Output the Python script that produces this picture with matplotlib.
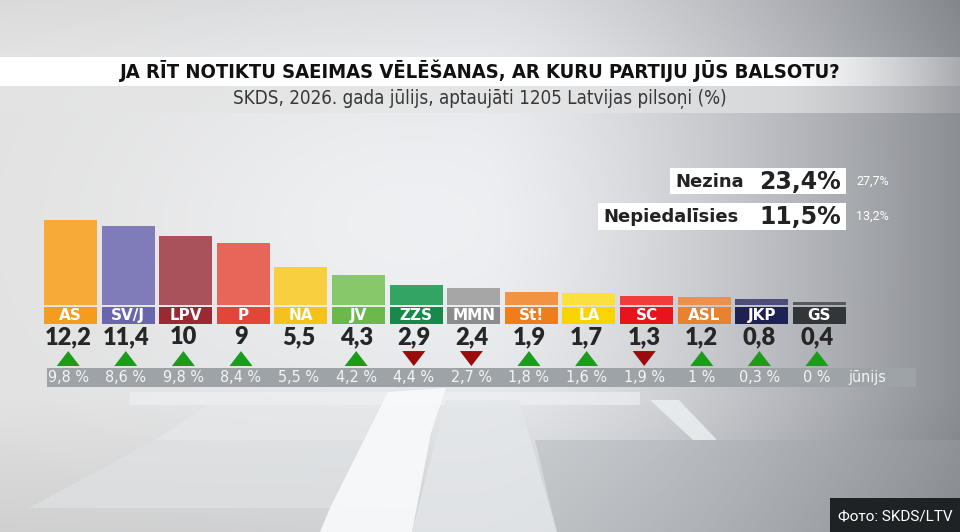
import numpy as np
import matplotlib
matplotlib.use('Agg')
import matplotlib.pyplot as plt
from matplotlib.patches import Rectangle, Polygon

# dati
parties = ["AS", "SV/J", "LPV", "P", "NA", "JV", "ZZS", "MMN", "St!", "LA", "SC", "ASL", "JKP", "GS"]
july = [12.2, 11.4, 10, 9, 5.5, 4.3, 2.9, 2.4, 1.9, 1.7, 1.3, 1.2, 0.8, 0.4]
june = [9.8, 8.6, 9.8, 8.4, 5.5, 4.2, 4.4, 2.7, 1.8, 1.6, 1.9, 1, 0.3, 0]
bar_colors = ["#f7aa38", "#7f7cb9", "#a9525b", "#e8655a", "#f8d03f", "#86c86a", "#33a461",
              "#a6a6a6", "#f09343", "#fbe03e", "#f23b3b", "#ea914f", "#4b4f78", "#55585d"]
tag_colors = ["#f59b1d", "#6a66ad", "#9b2934", "#e2463b", "#f4c21a", "#6db84b", "#18894a",
              "#8c8c8c", "#ef7d1b", "#f9d500", "#e9131d", "#e8822f", "#1e2251", "#333639"]
other_labels = ["Nezina", "Nepiedalīsies"]
other_july = [23.4, 11.5]
other_june = [27.7, 13.2]

title = "JA RĪT NOTIKTU SAEIMAS VĒLĒŠANAS, AR KURU PARTIJU JŪS BALSOTU?"
subtitle = "SKDS, 2026. gada jūlijs, aptaujāti 1205 Latvijas pilsoņi (%)"
prev_label = "jūnijs"
credit = "Фото: SKDS/LTV"


def fmt(v):
    return f"{v:g}".replace(".", ",")


W, H = 960, 532
fig = plt.figure(figsize=(9.6, 5.32), dpi=100)

# fons
bg = fig.add_axes([0, 0, 1, 1])
bg.set_xlim(0, W)
bg.set_ylim(H, 0)
bg.set_axis_off()

gx = np.linspace(0, 1, W)[None, :]
gy = np.linspace(0, 1, H)[:, None]
shade = 0.885 + 0.05 * np.exp(-((gx - 0.42) ** 2 / 0.08 + (gy - 0.42) ** 2 / 0.1))
shade = shade - 0.34 * np.clip((gx - 0.5) / 0.5, 0, 1) ** 1.5
shade = shade - 0.03 * np.clip((0.1 - gy) / 0.1, 0, 1)
shade = shade - 0.07 * np.clip((gy - 0.75) / 0.25, 0, 1)
img = np.dstack([shade, shade + 0.012 * gx, shade + 0.035 * gx])
band = np.clip(1 - np.clip((gx[0] - 0.82) / 0.18, 0, 1) * 0.75, 0, 1)[:, None]
img[57:86] = img[57:86] * (1 - band) + 1.0 * band
img[86:113] = img[86:113] * (1 - 0.7 * band) + 0.895 * 0.7 * band
bg.imshow(np.clip(img, 0, 1), extent=(0, W, H, 0), aspect='auto', zorder=0)

# grīdas gaismas laukumi
floor = [
    ([(130, 392), (640, 392), (640, 405), (130, 405)], "#f0f2f3", 0.6),
    ([(208, 405), (388, 405), (368, 440), (155, 440)], "#e6e8e9", 0.7),
    ([(155, 440), (368, 440), (330, 508), (29, 508)], "#dfe2e4", 0.65),
    ([(446, 400), (519, 400), (557, 532), (412, 532)], "#e4e7e9", 0.8),
    ([(388, 392), (446, 388), (431, 433), (412, 532), (320, 532), (330, 508)], "#f7f9fa", 0.95),
    ([(650, 400), (679, 400), (717, 440), (693, 440)], "#eef1f2", 0.8),
    ([(535, 440), (960, 440), (960, 532), (557, 532)], "#a3a9ad", 0.35),
]
for pts, col, a in floor:
    bg.add_patch(Polygon(pts, closed=True, facecolor=col, edgecolor="none", alpha=a, zorder=1))

bg.text(480, 71, title, ha="center", va="center", fontsize=14.5, fontweight="bold",
        family=["Liberation Sans Narrow", "DejaVu Sans"], fontstretch="condensed", color="#111111", zorder=3)
bg.text(480, 99, subtitle, ha="center", va="center", fontsize=13.5,
        family=["Liberation Sans Narrow", "DejaVu Sans"], fontstretch="condensed", color="#383838", zorder=3)

# Nezina / Nepiedalīsies
boxes = [(670, 168, 176, 26), (598, 203, 248, 27)]
for (bx, by, bw, bh), lab, val, prev in zip(boxes, other_labels, other_july, other_june):
    bg.add_patch(Rectangle((bx, by), bw, bh, facecolor="white", edgecolor="none", zorder=2))
    cy = by + bh / 2 + 1
    bg.text(bx + 5, cy, lab, ha="left", va="center", fontsize=13, fontweight="bold",
            family="DejaVu Sans", color="#222222", zorder=3)
    bg.text(bx + bw - 5, cy, fmt(val) + "%", ha="right", va="center", fontsize=17,
            fontweight="bold", family="DejaVu Sans", color="#222222", zorder=3)
    bg.text(bx + bw + 10, cy - 1, fmt(prev) + "%", ha="left", va="center", fontsize=9,
            family="Roboto", color="white", zorder=3)

bg.add_patch(Rectangle((830, 498), 130, 34, facecolor="#1f2224", edgecolor="none", zorder=2))
bg.text(895, 516, credit, ha="center", va="center", fontsize=11, family="Roboto",
        color="white", zorder=3)

# stabiņi
ax = fig.add_axes([41.7 / W, (H - 388.2) / H, 806.4 / W, 180.2 / H])
ax.set_xlim(-0.5, 13.5)
ax.set_ylim(-12, 14)
ax.set_axis_off()
ax.patch.set_alpha(0)

x = np.arange(len(parties))
ax.bar(x, july, width=0.92, color=bar_colors, zorder=2)
ax.bar(x, 2.42, bottom=-2.75, width=0.92, color=tag_colors, zorder=2)

ax.add_patch(Rectangle((-0.413, -11.83), 15.1, 2.74, facecolor="#9ea3a8", edgecolor="none",
                       clip_on=False, zorder=1))

for i, (p, v, pv) in enumerate(zip(parties, july, june)):
    ax.text(i, -1.55, p, ha="center", va="center", fontsize=11, fontweight="bold",
            family="DejaVu Sans", color="white", zorder=3)
    ax.text(i - 0.04, -4.6, fmt(v), ha="center", va="center", fontsize=17, fontweight="heavy",
            family="Lato", color="#262626", zorder=3)
    ax.text(i - 0.04, -10.5, fmt(pv) + " %", ha="center", va="center", fontsize=11.5,
            family=["Liberation Sans Narrow", "DejaVu Sans"], fontstretch="condensed",
            color="#f3f5f6", zorder=3)
    if v > pv:
        ax.add_patch(Polygon([(i - 0.24, -8.8), (i + 0.16, -8.8), (i - 0.04, -6.64)],
                             facecolor="#1c9b1c", edgecolor="none", zorder=3))
    elif v < pv:
        ax.add_patch(Polygon([(i - 0.24, -6.64), (i + 0.16, -6.64), (i - 0.04, -8.8)],
                             facecolor="#9c0b0b", edgecolor="none", zorder=3))

ax.text(13.5, -10.5, prev_label, ha="left", va="center", fontsize=11.5,
        family=["Liberation Sans Narrow", "DejaVu Sans"], fontstretch="condensed",
        color="#f3f5f6", zorder=3)

fig.savefig("out.png", dpi=100)
